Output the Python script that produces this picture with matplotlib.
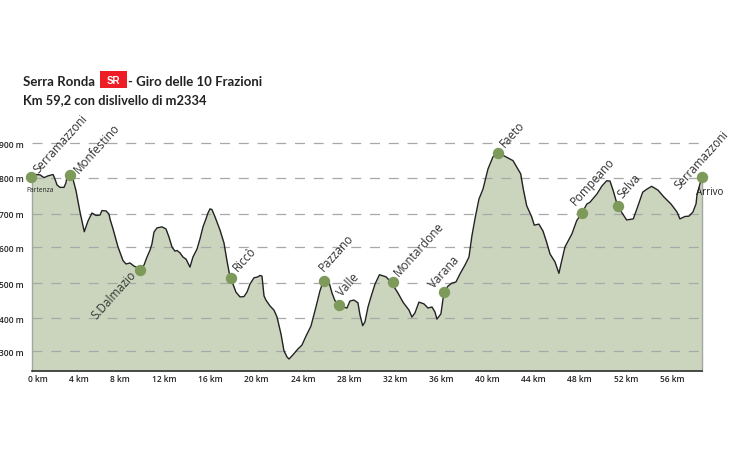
import matplotlib
matplotlib.use("Agg")
import matplotlib.pyplot as plt
from matplotlib.patches import Rectangle

# Route profile
distance_km = [0,.35,.71,1.06,1.41,1.86,2.03,2.21,2.47,2.83,3.00,3.09,3.36,3.53,3.62,3.89,4.24,4.62,4.95,5.30,
 5.65,6.01,6.18,6.54,6.80,6.89,7.16,7.60,8.04,8.31,8.66,9.01,9.54,9.90,10.16,10.43,10.60,10.78,11.04,11.49,
 11.84,12.10,12.37,12.63,12.81,13.08,13.34,13.61,13.96,14.22,14.58,14.84,15.11,15.37,15.55,15.73,15.90,16.17,16.61,16.96,
 17.23,17.49,17.76,18.02,18.38,18.73,19.00,19.26,19.61,19.97,20.14,20.32,20.50,20.67,21.03,21.38,21.65,22.00,22.26,22.53,
 22.71,23.06,23.50,23.85,24.21,24.65,25.09,25.44,25.71,25.97,26.24,26.51,26.77,27.12,27.48,27.83,28.09,28.45,28.80,28.98,
 29.22,29.42,29.69,29.95,30.31,30.70,31.28,31.72,32.34,32.78,33.31,33.57,33.84,34.19,34.63,34.99,35.34,35.60,35.78,36.13,
 36.40,36.75,37.11,37.46,37.81,38.26,38.61,38.87,39.14,39.49,39.85,40.29,40.73,41.08,41.70,42.50,43.18,43.41,43.71,44.15,
 44.38,44.79,45.15,45.47,45.77,46.21,46.56,46.74,47.09,47.71,48.13,48.59,49.03,49.30,49.92,50.36,50.78,51.07,51.36,51.69,
 52.10,52.54,53.13,53.45,53.96,54.34,54.75,55.31,55.84,56.46,56.99,57.25,57.70,58.05,58.40,58.67,58.76,59.02,59.20]
elevation_m = [803,810,809,801,806,810,797,780,773,773,786,803,809,809,797,763,702,645,676,699,
 692,693,706,705,696,682,653,601,562,552,555,546,538,549,572,592,610,644,656,659,
 653,630,601,589,591,584,572,566,543,572,595,624,659,682,699,711,709,688,650,613,
 561,515,494,471,457,458,471,494,512,515,519,517,460,448,431,419,399,350,302,284,
 278,290,307,318,344,373,428,474,500,512,500,468,446,435,428,425,445,448,440,405,
 374,385,428,457,494,521,515,500,468,442,419,399,411,442,437,425,428,414,393,408,
 470,488,497,500,523,549,572,633,682,739,768,826,861,869,864,850,812,768,720,688,
 664,667,647,615,581,558,525,552,601,639,677,699,725,730,754,777,792,791,763,725,
 701,679,682,711,759,768,776,765,745,725,702,682,689,690,702,725,751,783,803]

# Named waypoints
stop_names = ["Serramazzoni","Monfestino","S.Dalmazio","Riccò","Pazzano","Valle","Montardone",
              "Varana","Faeto","Pompeano","Selva","Serramazzoni"]
stop_km = [-0.09,3.36,9.54,17.54,25.76,27.10,31.87,36.40,41.20,48.59,51.75,59.20]
stop_m = [802,809,536,513,503,435,499,470,872,699,720,802]

# Axis labels
ytick_values = [900,800,697,600,496,395,300]
ytick_labels = ["900 m","800 m","700 m","600 m","500 m","400 m","300 m"]
xtick_values = [.5,4.15,7.8,11.7,15.75,19.85,23.95,28.0,32.1,36.15,40.2,44.3,48.4,52.5,56.55]
xtick_labels = [f"{k} km" for k in range(0,60,4)]

FONT = "Open Sans"
plt.rcParams["font.family"] = [FONT, "DejaVu Sans"]
W, H = 730, 460
fig = plt.figure(figsize=(W/100, H/100), dpi=100)
ax = fig.add_axes([32/W, (H-372)/H, 670/W, 272/H])
ax.set_xlim(0, 59.2)
ax.set_ylim(243.4, 1027.8)
ax.fill_between(distance_km, elevation_m, 243.4, color="#cbd5bd", lw=0, zorder=1)
ax.plot(distance_km, elevation_m, color="#222222", lw=1.0, zorder=3, solid_joinstyle="round")
for v in ytick_values:
    ax.plot([0,59.2],[v,v], color="#a8a8a8", lw=0.9, dashes=(8,7), zorder=2)
ax.plot(stop_km, stop_m, "o", ms=8.2, color="#7d9a5a", mec="none", zorder=5, clip_on=False)

ax.spines["top"].set_visible(False)
ax.spines["right"].set_visible(False)
ax.spines["left"].set_bounds(243.4, 803)
ax.spines["left"].set_color("#a5a5a5"); ax.spines["left"].set_linewidth(1)
ax.plot([59.2,59.2],[243.4,803], color="#a5a5a5", lw=1, zorder=2, clip_on=False)
ax.spines["bottom"].set_color("#222222"); ax.spines["bottom"].set_linewidth(1.1)
ax.set_yticks(ytick_values, ytick_labels, fontsize=6, fontweight="semibold", color="#222222")
ax.set_xticks(xtick_values, xtick_labels, fontsize=6, fontweight="semibold", color="#222222")
ax.tick_params(length=0)
ax.tick_params(axis="y", pad=6)
ax.tick_params(axis="x", pad=2.5)

# label offsets from marker in px, (dx, dy up, ha)
offsets = [(7,4,"left"),(9,2,"left"),(-3,-5,"right"),(7,7,"left"),(0,10,"left"),(3,9,"left"),
           (6,6,"left"),(-10,4,"left"),(7,6,"left"),(-6,8,"left"),(5,8,"left"),(-23,-12,"left")]
for n,k,m,(dx,dy,ha) in zip(stop_names, stop_km, stop_m, offsets):
    ax.annotate(n, (k,m), xytext=(dx*.72,dy*.72), textcoords="offset points", rotation=48,
                rotation_mode="anchor", ha=ha, va="baseline", fontsize=8.4, color="#333333", zorder=6, annotation_clip=False)

fig.text(26/W, 1-192/H, "Partenza", fontsize=4.8, color="#222222")
fig.text(696/W, 1-195/H, "Arrivo", fontsize=7, color="#222222")

fig.text(23/W, 1-86/H, "Serra Ronda", fontsize=9.5, fontweight="bold", color="#222222", family="Lato")
fig.add_artist(Rectangle((100/W,1-88.5/H),27/W,16.5/H, transform=fig.transFigure, fc="#ee1c25", ec="none"))
fig.text(113.5/W, 1-80.5/H, "SR", fontsize=7, fontweight="bold", color="white", ha="center", va="center", family="Liberation Sans")
fig.text(128/W, 1-86/H, "- Giro delle 10 Frazioni", fontsize=9.5, fontweight="bold", color="#222222", family="Lato")
fig.text(23/W, 1-104/H, "Km 59,2 con dislivello di m2334", fontsize=9.3, fontweight="bold", color="#222222", family="Lato")

fig.savefig("out.png", dpi=100)
